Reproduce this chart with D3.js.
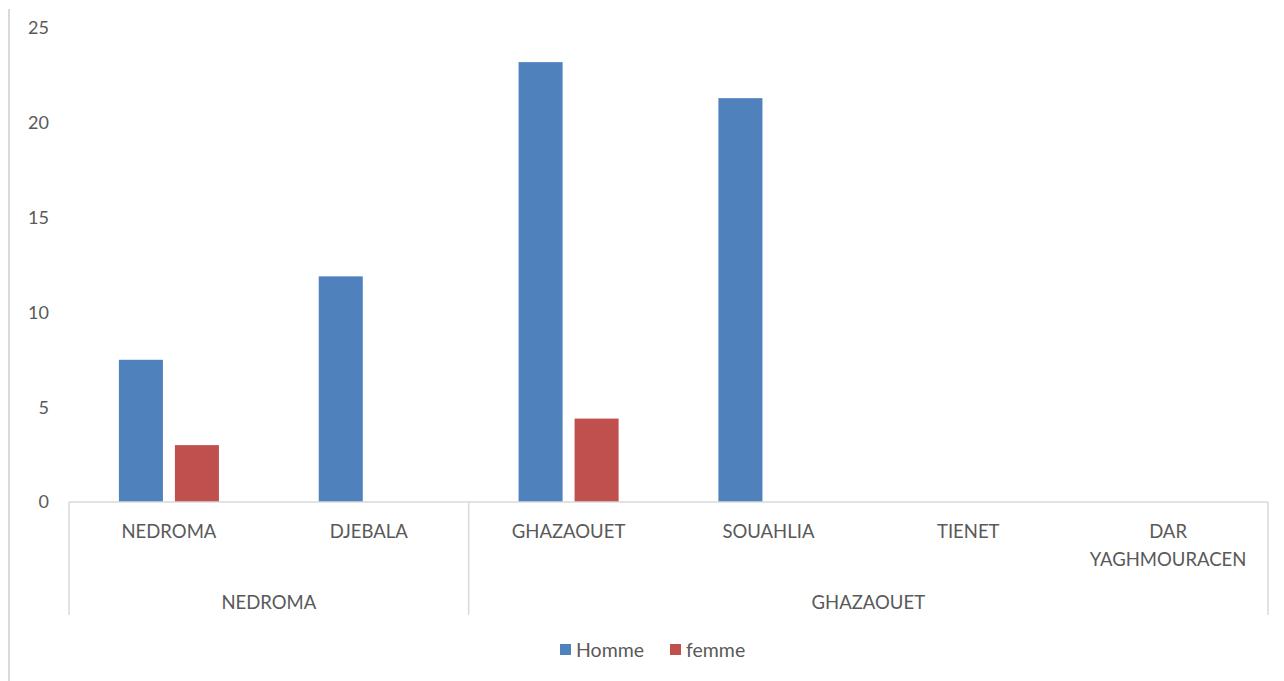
<!DOCTYPE html>
<html><head><meta charset="utf-8">
<script src="https://cdn.jsdelivr.net/npm/d3@7"></script>
<style>body{margin:0;background:#fff}svg{display:block}text{font-family:Lato,"Open Sans",sans-serif;fill:#595959}</style>
</head><body><svg id="c" width="1284" height="681"></svg>
<script>
const categories = ["NEDROMA","DJEBALA","GHAZAOUET","SOUAHLIA","TIENET","DAR YAGHMOURACEN"];
const groups = [{name:"NEDROMA", n:2},{name:"GHAZAOUET", n:4}];
const seriesNames = ["Homme","femme"];
const homme = [7.5, 11.9, 23.2, 21.3, 0, 0];
const femme = [3.0, 0, 4.4, 0, 0, 0];
const yTicks = [0,5,10,15,20,25];
const colors = ["#4F81BD","#C0504D"];

(function(){
const svg = d3.select("#c");
const pLeft = 69, pRight = 1268, pTop = 28, pBottom = 502;
const x = d3.scaleBand().domain(categories).range([pLeft,pRight]).paddingInner(0).paddingOuter(0);
const y = d3.scaleLinear().domain([0,25]).range([pBottom,pTop]);
const xs = d3.scaleBand().domain(seriesNames).range([0,x.bandwidth()]).paddingInner(0.214).paddingOuter(0.891);

// chart frame left edge
svg.append("line").attr("x1",9).attr("x2",9).attr("y1",9).attr("y2",681).attr("stroke","#d9d9d9").attr("stroke-width",2);

// y tick labels
svg.append("g").selectAll("text").data(yTicks).join("text")
  .attr("x",49).attr("y",d=>y(d)).attr("dy","0.35em").attr("text-anchor","end")
  .style("font-size","18px").text(d=>d);

const data = [homme, femme];
seriesNames.forEach((s,i)=>{
  svg.append("g").selectAll("rect").data(categories.map((c,j)=>({c,v:data[i][j]})).filter(d=>d.v>0)).join("rect")
    .attr("x",d=>x(d.c)+xs(s)).attr("width",xs.bandwidth())
    .attr("y",d=>y(d.v)).attr("height",d=>y(0)-y(d.v)).attr("fill",colors[i]);
});

// axis line
svg.append("line").attr("x1",pLeft).attr("x2",pRight).attr("y1",pBottom).attr("y2",pBottom).attr("stroke","#d9d9d9").attr("stroke-width",1.5);

// group separators
let idx = 0;
const seps = [0];
groups.forEach(g=>{ idx += g.n; seps.push(idx); });
svg.append("g").selectAll("line").data(seps).join("line")
  .attr("x1",d=>d<categories.length? x(categories[d]) : pRight)
  .attr("x2",d=>d<categories.length? x(categories[d]) : pRight)
  .attr("y1",pBottom).attr("y2",615).attr("stroke","#d9d9d9").attr("stroke-width",1.5);

// category labels
const catLines = {"DAR YAGHMOURACEN":["DAR","YAGHMOURACEN"]};
categories.forEach(c=>{
  const lines = catLines[c] || [c];
  const t = svg.append("text").attr("x",x(c)+x.bandwidth()/2).attr("y",538).attr("text-anchor","middle").style("font-size","18.5px");
  lines.forEach((l,k)=>t.append("tspan").attr("x",x(c)+x.bandwidth()/2).attr("dy",k?28:0).text(l));
});
// group labels
let start = 0;
groups.forEach(g=>{
  const x0 = x(categories[start]);
  const x1 = x(categories[start+g.n-1]) + x.bandwidth();
  svg.append("text").attr("x",(x0+x1)/2).attr("y",609).attr("text-anchor","middle").style("font-size","18.5px").text(g.name);
  start += g.n;
});

// legend
const legend = [{name:"Homme",x:560},{name:"femme",x:670}];
legend.forEach((l,i)=>{
  svg.append("rect").attr("x",l.x).attr("y",644).attr("width",11).attr("height",11).attr("fill",colors[i]);
  svg.append("text").attr("x",l.x+16).attr("y",657).style("font-size","19.5px").text(seriesNames[i]);
});
})();
</script></body></html>
